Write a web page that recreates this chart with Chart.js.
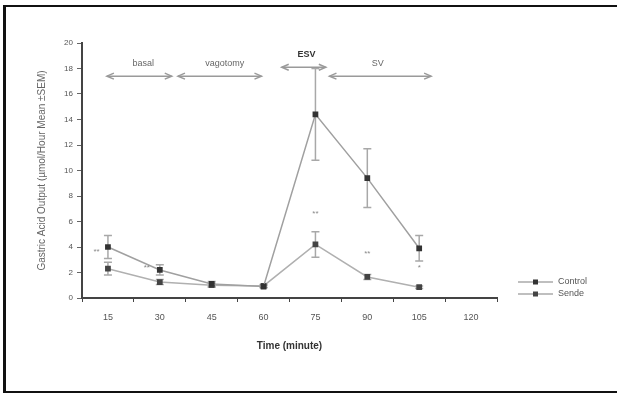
<!DOCTYPE html>
<html>
<head>
<meta charset="utf-8">
<script src="https://cdn.jsdelivr.net/npm/chart.js@4.4.1/dist/chart.umd.min.js"></script>
<style>
    body { margin: 0; background: #fff; }
    #wrap { position: relative; width: 617px; height: 397px; }
    #frame { position: absolute; left: 3px; top: 5px; width: 620px; height: 384px;
             border: 2px solid #111; border-left-width: 3px; pointer-events: none; }
</style>
</head>
<body>
<div id="wrap">
    <canvas id="acidChart" width="617" height="397"></canvas>
    <div id="frame"></div>
</div>
<script>
// Datos
const timeLabels = ['15', '30', '45', '60', '75', '90', '105', '120'];
const controlValues = [4.0, 2.2, 1.1, 0.9, 14.4, 9.4, 3.9, null];
const controlSem = [0.9, 0.4, 0.2, 0.1, 3.6, 2.3, 1.0, null];
const sendeValues = [2.3, 1.25, 1.0, 0.95, 4.2, 1.65, 0.85, null];
const sendeSem = [0.5, 0.2, 0.15, 0.1, 1.0, 0.2, 0.1, null];
const yTicks = [0, 2, 4, 6, 8, 10, 12, 14, 16, 18, 20];

// Marcas de significancia {indice, valor, texto}
const starMarks = [
    { i: -0.22, v: 3.6, text: '**' },
    { i: 0.75, v: 2.4, text: '**' },
    { i: 4, v: 6.6, text: '**' },
    { i: 5, v: 3.5, text: '**' },
    { i: 6, v: 2.4, text: '*' }
];

// Fases del experimento (flechas superiores)
const phases = [
    { text: 'basal', from: -0.02, to: 1.23, y: 17.4, textX: 0.68, textY: 18.4, bold: false },
    { text: 'vagotomy', from: 1.35, to: 2.96, y: 17.4, textX: 2.25, textY: 18.4, bold: false },
    { text: 'ESV', from: 3.35, to: 4.2, y: 18.1, textX: 3.83, textY: 19.1, bold: true },
    { text: 'SV', from: 4.27, to: 6.23, y: 17.4, textX: 5.2, textY: 18.4, bold: false }
];

// Barras de error
const errorBarsPlugin = {
    id: 'errorBars',
    beforeDatasetsDraw(chart) {
        const ctx = chart.ctx;
        const x = chart.scales.x, y = chart.scales.y;
        const sems = [controlSem, sendeSem];
        ctx.save();
        ctx.strokeStyle = '#a8a8a8';
        ctx.lineWidth = 1.5;
        chart.data.datasets.forEach((ds, d) => {
            ds.data.forEach((v, i) => {
                const s = sems[d][i];
                if (v === null || s === null) return;
                const px = x.getPixelForValue(i);
                const top = y.getPixelForValue(v + s);
                const bot = y.getPixelForValue(v - s);
                ctx.beginPath();
                ctx.moveTo(px, top); ctx.lineTo(px, bot);
                ctx.moveTo(px - 4, top); ctx.lineTo(px + 4, top);
                ctx.moveTo(px - 4, bot); ctx.lineTo(px + 4, bot);
                ctx.stroke();
            });
        });
        ctx.restore();
    }
};

function drawArrowHead(ctx, x, y, dir) {
    ctx.beginPath();
    ctx.moveTo(x + dir * 7, y - 3);
    ctx.lineTo(x, y);
    ctx.lineTo(x + dir * 7, y + 3);
    ctx.stroke();
}

// Anotaciones, estrellas y leyenda
const annotationsPlugin = {
    id: 'annotations',
    afterDatasetsDraw(chart) {
        const ctx = chart.ctx;
        const x = chart.scales.x, y = chart.scales.y;
        const px = i => x.getPixelForValue(0) + i * (x.getPixelForValue(1) - x.getPixelForValue(0));
        ctx.save();
        ctx.textAlign = 'center';
        ctx.textBaseline = 'middle';

        phases.forEach(p => {
            const x1 = px(p.from), x2 = px(p.to), yy = y.getPixelForValue(p.y);
            ctx.strokeStyle = '#9a9a9a';
            ctx.lineWidth = 1.5;
            ctx.beginPath();
            ctx.moveTo(x1, yy); ctx.lineTo(x2, yy);
            ctx.stroke();
            drawArrowHead(ctx, x1, yy, 1);
            drawArrowHead(ctx, x2, yy, -1);
            ctx.fillStyle = p.bold ? '#333' : '#666';
            ctx.font = (p.bold ? 'bold ' : '') + '9px "Liberation Sans", Arial, sans-serif';
            ctx.fillText(p.text, px(p.textX), y.getPixelForValue(p.textY));
        });

        ctx.fillStyle = '#888';
        ctx.font = '8px "Liberation Sans", Arial, sans-serif';
        starMarks.forEach(s => {
            ctx.fillText(s.text, px(s.i), y.getPixelForValue(s.v));
        });

        // Leyenda
        const rows = [
            { label: 'Control', yy: 282, color: '#333' },
            { label: 'Sende', yy: 294, color: '#444' }
        ];
        ctx.textAlign = 'left';
        ctx.font = '9px "Liberation Sans", Arial, sans-serif';
        rows.forEach(r => {
            ctx.strokeStyle = '#aaa';
            ctx.lineWidth = 1.5;
            ctx.beginPath();
            ctx.moveTo(518, r.yy); ctx.lineTo(553, r.yy);
            ctx.stroke();
            ctx.fillStyle = r.color;
            ctx.fillRect(533, r.yy - 2.5, 5, 5);
            ctx.fillStyle = '#555';
            ctx.fillText(r.label, 558, r.yy);
        });
        ctx.restore();
    }
};

const ctx = document.getElementById('acidChart').getContext('2d');
const acidChart = new Chart(ctx, {
    type: 'line',
    data: {
        labels: timeLabels,
        datasets: [{
            label: 'Control',
            data: controlValues,
            borderColor: '#a0a0a0',
            borderWidth: 1.5,
            pointStyle: 'rect',
            pointRadius: 3,
            pointBackgroundColor: '#333',
            pointBorderColor: '#333',
            tension: 0
        }, {
            label: 'Sende',
            data: sendeValues,
            borderColor: '#b0b0b0',
            borderWidth: 1.5,
            pointStyle: 'rect',
            pointRadius: 3,
            pointBackgroundColor: '#444',
            pointBorderColor: '#444',
            tension: 0
        }]
    },
    options: {
        responsive: false,
        animation: false,
        layout: {
            padding: { left: 36, top: 43, right: 120, bottom: 41 }
        },
        plugins: {
            legend: { display: false },
            tooltip: { enabled: false }
        },
        scales: {
            x: {
                type: 'category',
                offset: true,
                afterFit: s => { s.height = 58; },
                grid: {
                    offset: true,
                    drawOnChartArea: false,
                    color: '#444',
                    tickLength: 4
                },
                border: { color: '#444', width: 2 },
                ticks: {
                    color: '#555',
                    padding: 10,
                    font: { family: '"Liberation Sans", Arial, sans-serif', size: 9 }
                },
                title: {
                    display: true,
                    text: 'Time (minute)',
                    color: '#333',
                    padding: { top: 8 },
                    font: { family: '"Liberation Sans", Arial, sans-serif', size: 10, weight: 'bold' }
                }
            },
            y: {
                min: 0,
                max: 20,
                afterFit: s => { s.width = 46; },
                afterBuildTicks: s => { s.ticks = yTicks.map(v => ({ value: v })); },
                grid: {
                    drawOnChartArea: false,
                    color: '#666',
                    tickLength: 5
                },
                border: { color: '#444', width: 2 },
                ticks: {
                    color: '#555',
                    padding: 4,
                    font: { family: '"Liberation Sans", Arial, sans-serif', size: 8 }
                },
                title: {
                    display: true,
                    text: 'Gastric Acid Output (µmol/Hour Mean ±SEM)',
                    color: '#666',
                    padding: 0,
                    font: { family: '"Liberation Sans", Arial, sans-serif', size: 10 }
                }
            }
        }
    },
    plugins: [errorBarsPlugin, annotationsPlugin]
});
</script>
</body>
</html>
